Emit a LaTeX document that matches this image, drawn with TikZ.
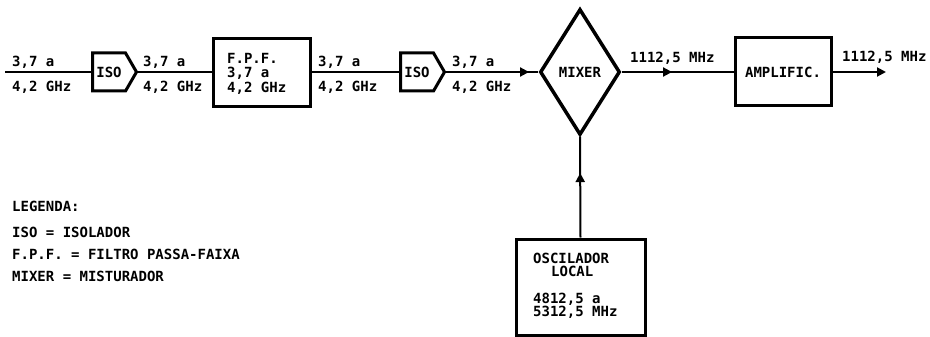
\documentclass[tikz,border=0pt]{standalone}
\usepackage{fontspec}
\setmonofont{DejaVu Sans Mono}
\usetikzlibrary{shapes.geometric,shapes.symbols,arrows.meta,decorations.markings}
\begin{document}
\begin{tikzpicture}[x=1pt,y=-1pt,
  txt/.style={font=\ttfamily\bfseries\fontsize{14}{13}\selectfont, inner sep=0pt, anchor=west},
  box/.style={draw, line width=3pt, inner sep=0pt},
  isobox/.style={draw, line width=3pt, shape=signal, signal to=east, signal pointer angle=120,
     minimum width=44pt, minimum height=38pt, inner sep=0pt, anchor=west,
     font=\ttfamily\bfseries\fontsize{14}{13}\selectfont},
  wire/.style={line width=2pt},
  tip/.style={-{Triangle[length=9pt,width=9pt]}},
  midarrow/.style={postaction={decorate}, decoration={markings, mark=at position #1 with {\arrow{Triangle[length=9pt,width=9pt]}}}},
]
\useasboundingbox (0,0) rectangle (930,337);

% blocks
\coordinate (in) at (5,72);
\node[isobox] (iso1) at (91,72) {ISO};
\node[box, minimum width=97pt, minimum height=68pt] (fpf) at (261.5,73) {};
\node[txt] (fpf1) at (227,58) {F.P.F.};
\node[txt] (fpf2) at (227,73) {3,7 a};
\node[txt] (fpf3) at (227,88) {4,2 GHz};
\node[isobox] (iso2) at (399,72) {ISO};
\node[draw, line width=3.5pt, shape=diamond, minimum width=80pt, minimum height=126pt, inner sep=0pt,
      font=\ttfamily\bfseries\fontsize{14}{13}\selectfont] (mix) at (580,72) {MIXER};
\node[box, minimum width=96pt, minimum height=68pt,
      font=\ttfamily\bfseries\fontsize{14}{13}\selectfont] (amp) at (783,72) {AMPLIFIC.};
\coordinate (out) at (886,72);
\node[box, minimum width=129pt, minimum height=96pt] (osc) at (580.5,287) {};
\node[txt] (osc1) at (533,258) {OSCILADOR};
\node[txt] (osc2) at (551,271) {LOCAL};
\node[txt] (osc3) at (533,299) {4812,5 a};
\node[txt] (osc4) at (533,312) {5312,5 MHz};

% connectors
\draw[wire] (in) -- (iso1.west);
\draw[wire] (iso1.east) -- (fpf.west |- iso1.east);
\draw[wire] (fpf.east |- iso2.west) -- (iso2.west);
\draw[wire, midarrow=0.9] (iso2.east) -- (mix.west);
\draw[wire, midarrow=0.45] (mix.east) -- (amp.west);
\draw[wire, tip] (amp.east) -- (out);
\draw[wire, midarrow=0.64] (osc.north) -- (mix.south);

% labels
\node[txt] (l1a) at (12,62) {3,7 a};
\node[txt] (l1b) at (12,87) {4,2 GHz};
\node[txt] (l2a) at (143,62) {3,7 a};
\node[txt] (l2b) at (143,87) {4,2 GHz};
\node[txt] (l3a) at (318,62) {3,7 a};
\node[txt] (l3b) at (318,87) {4,2 GHz};
\node[txt] (l4a) at (452,62) {3,7 a};
\node[txt] (l4b) at (452,87) {4,2 GHz};
\node[txt] (f1) at (630,58) {1112,5 MHz};
\node[txt] (f2) at (842,57) {1112,5 MHz};

% legend
\node[txt] (leg0) at (12,206) {LEGENDA:};
\node[txt] (leg1) at (12,232) {ISO = ISOLADOR};
\node[txt] (leg2) at (12,254) {F.P.F. = FILTRO PASSA-FAIXA};
\node[txt] (leg3) at (12,276) {MIXER = MISTURADOR};
\end{tikzpicture}
\end{document}
